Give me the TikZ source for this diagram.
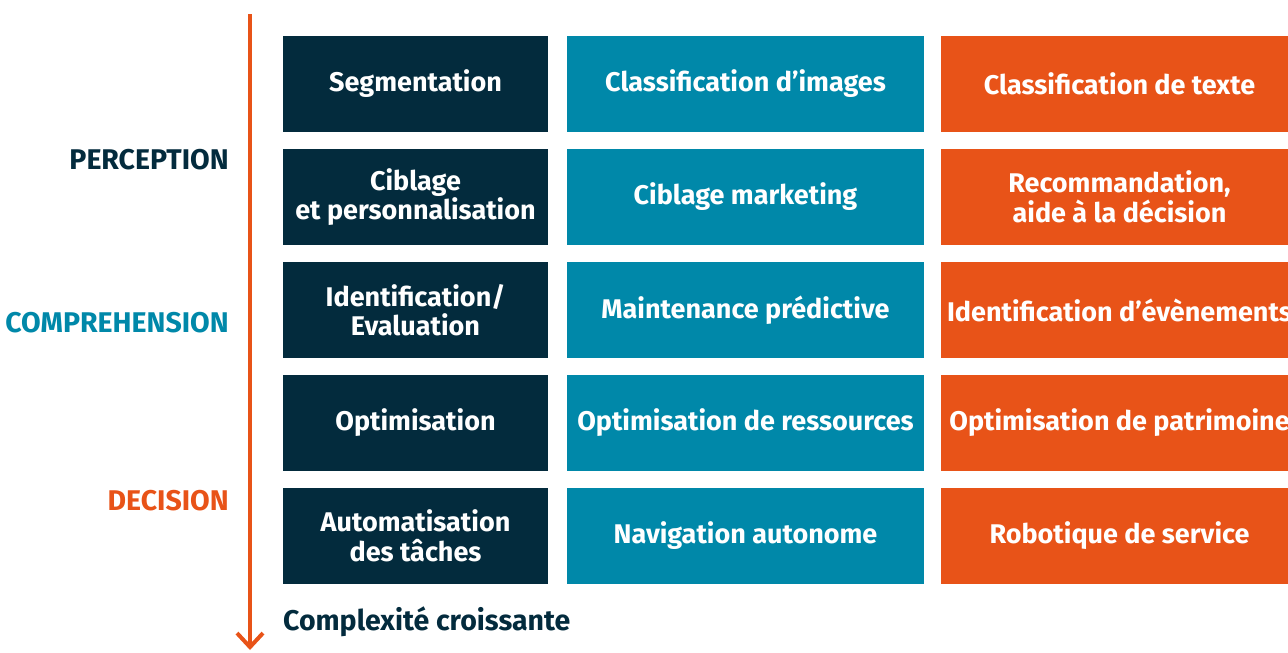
\documentclass[tikz,border=0pt]{standalone}
\usepackage{fontspec}
\setmainfont{Fira Sans}
\usetikzlibrary{arrows.meta}
\definecolor{navy}{HTML}{032B3D}
\definecolor{teal}{HTML}{0088A9}
\definecolor{orng}{HTML}{E85318}
\tikzset{
  box/.style={rectangle, minimum height=96pt, inner sep=0pt, align=center,
    text=white, font=\fontsize{27}{29.5}\selectfont\bfseries},
  boxA/.style={box, fill=navy, minimum width=265pt},
  boxB/.style={box, fill=teal, minimum width=357pt},
  boxC/.style={box, fill=orng, minimum width=357pt},
  lvl/.style={anchor=east, inner sep=0pt, font=\fontsize{28.5}{30}\selectfont\bfseries}
}
\begin{document}
\begin{tikzpicture}[x=1pt,y=-1pt]
\useasboundingbox (0,0) rectangle (1288,653);

\node (A1) at (415.5,84) [boxA] {Segmentation};
\node (A2) at (415.5,197) [boxA] {Ciblage\\et personnalisation};
\node (A3) at (415.5,310) [boxA] {Identification/\\Evaluation};
\node (A4) at (415.5,423) [boxA] {Optimisation};
\node (A5) at (415.5,536) [boxA] {Automatisation\\des tâches};

\node (B1) at (745.5,84) [boxB] {Classification d’images};
\node (B2) at (745.5,197) [boxB] {Ciblage marketing};
\node (B3) at (745.5,310) [boxB] {Maintenance prédictive};
\node (B4) at (745.5,423) [boxB] {Optimisation de ressources};
\node (B5) at (745.5,536) [boxB] {Navigation autonome};

\node (C1) at (1119.5,84) [boxC] {Classification de texte};
\node (C2) at (1119.5,197) [boxC] {Recommandation,\\aide à la décision};
\node (C3) at (1119.5,310) [boxC] {Identification d’évènements};
\node (C4) at (1119.5,423) [boxC] {Optimisation de patrimoine};
\node (C5) at (1119.5,536) [boxC] {Robotique de service};

\node (L1) at (229,160) [lvl, text=navy] {PERCEPTION};
\node (L2) at (229,323) [lvl, text=teal] {COMPREHENSION};
\node (L3) at (229,501) [lvl, text=orng] {DECISION};

\coordinate (top) at (250,14);
\coordinate (bot) at (250,650);
\draw [orng, line width=4.5pt, -{Straight Barb[length=14pt,width=26pt,line width=4pt]}] (top) -- (bot);

\node (X) at (283,622) [anchor=west, inner sep=0pt, text=navy, font=\fontsize{28.5}{30}\selectfont\bfseries] {Complexité croissante};

\end{tikzpicture}
\end{document}
